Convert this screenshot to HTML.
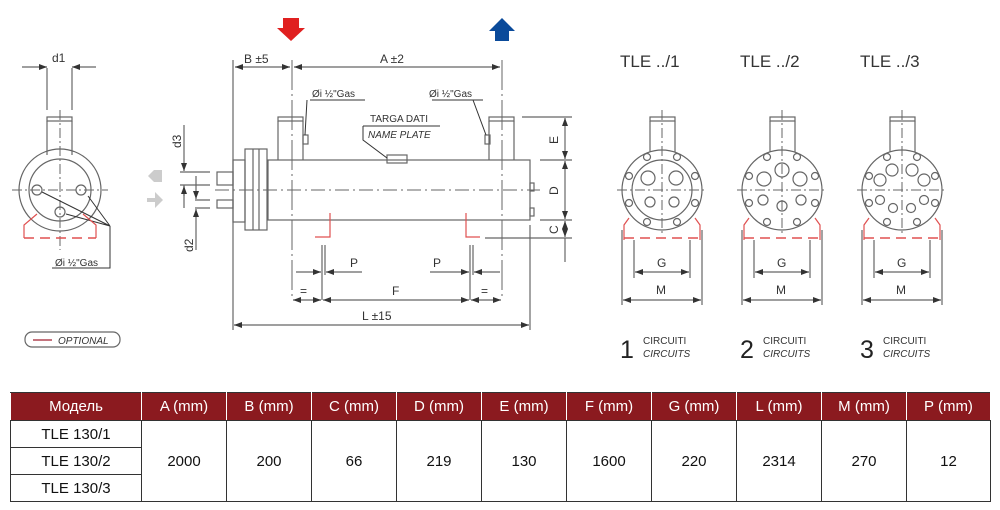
<!DOCTYPE html>
<html><head><meta charset="utf-8"><style>
body{margin:0;background:#fff;width:1000px;height:510px;overflow:hidden;font-family:"Liberation Sans",sans-serif}
svg{position:absolute;left:0;top:0}
table{position:absolute;left:10px;top:392px;border-collapse:collapse;font-family:"Liberation Sans","DejaVu Sans",sans-serif;font-size:15px;color:#111}
td,th{border:1.5px solid #333;text-align:center;padding:0}
th{background:#8b1a1f;color:#fff;font-weight:normal;height:27px;border-color:#333 #fff #333 #fff}
td{height:26px}
</style></head><body>
<svg width="1000" height="390" viewBox="0 0 1000 390" font-family="Liberation Sans, sans-serif" fill="none" stroke="#666" stroke-width="1.2">
<defs><marker id="a" markerWidth="8" markerHeight="6" refX="8" refY="3" orient="auto-start-reverse" markerUnits="userSpaceOnUse"><path d="M0,0L8,3L0,6z" fill="#333" stroke="none"/></marker></defs>
<!-- left side view -->
<g>
<line x1="47" y1="68" x2="47" y2="110"/><line x1="72" y1="68" x2="72" y2="110"/>
<line x1="22" y1="67" x2="47" y2="67" marker-end="url(#a)"/><line x1="96" y1="67" x2="72" y2="67" marker-end="url(#a)"/>
<text x="52" y="62" fill="#333" stroke="none" font-size="12">d1</text>
<rect x="47" y="117" width="25" height="4"/><line x1="47" y1="121" x2="47" y2="155"/><line x1="72" y1="121" x2="72" y2="155"/>
<circle cx="60" cy="190" r="41"/><circle cx="60" cy="190" r="31"/>
<line x1="60" y1="110" x2="60" y2="250" stroke-dasharray="10,3,2,3" stroke-width="1"/><line x1="12" y1="190" x2="108" y2="190" stroke-dasharray="10,3,2,3" stroke-width="1"/>
<circle cx="37" cy="190" r="5"/><circle cx="81" cy="190" r="5"/><circle cx="60" cy="212" r="5"/>
<path d="M110,226L42,192M110,226L88,196M110,226L66,214M110,226V268H52" stroke="#333" stroke-width="1"/>
<text x="55" y="266" fill="#333" stroke="none" font-size="10">Øi ½"Gas</text>
<path d="M37,214L24,225V238M83,214L96,225V238" stroke="#e05050"/>
<line x1="24" y1="238" x2="96" y2="238" stroke="#e05050" stroke-width="1.5" stroke-dasharray="10,6"/>
<rect x="25" y="332" width="95" height="15" rx="7"/><line x1="33" y1="340" x2="52" y2="340" stroke="#a02030"/>
<text x="58" y="344" fill="#333" stroke="none" font-size="10" font-style="italic">OPTIONAL</text>
</g>
<!-- main view -->
<g>
<path d="M283,18h16v10h6l-14,13l-14,-13h6z" fill="#e02020" stroke="none"/>
<path d="M495,41h14v-10h6l-13,-13l-13,13h6z" fill="#0a4a9a" stroke="none"/>
<path d="M162,170h-8l-6,6l6,6h8z" fill="#ccc" stroke="none"/>
<path d="M147,198h8v-6l8,8l-8,8v-6h-8z" fill="#ccc" stroke="none"/>
<line x1="233" y1="60" x2="233" y2="330"/><line x1="292" y1="60" x2="292" y2="300" stroke-dasharray="30,4,2,4" stroke-width="1"/><line x1="502" y1="60" x2="502" y2="300" stroke-dasharray="30,4,2,4" stroke-width="1"/><line x1="530" y1="225" x2="530" y2="330"/>
<line x1="235" y1="67" x2="290" y2="67" marker-start="url(#a)" marker-end="url(#a)"/>
<line x1="294" y1="67" x2="500" y2="67" marker-start="url(#a)" marker-end="url(#a)"/>
<text x="244" y="63" fill="#333" stroke="none" font-size="12">B ±5</text>
<text x="380" y="63" fill="#333" stroke="none" font-size="12">A ±2</text>
<rect x="268" y="160" width="262" height="60"/>
<line x1="215" y1="190" x2="540" y2="190" stroke-dasharray="14,4,2,4" stroke-width="1"/>
<rect x="233" y="160" width="12" height="62"/><rect x="245" y="149" width="22" height="81"/><line x1="253" y1="149" x2="253" y2="230"/><line x1="259" y1="149" x2="259" y2="230"/>
<rect x="217" y="172" width="16" height="13"/><rect x="217" y="200" width="16" height="8"/>
<rect x="278" y="117" width="25" height="4"/><path d="M278,121V160M303,121V160"/>
<rect x="489" y="117" width="25" height="4"/><path d="M489,121V160M514,121V160"/>
<rect x="303" y="135" width="5" height="9"/><rect x="485" y="135" width="5" height="9"/>
<rect x="387" y="155" width="20" height="8"/>
<rect x="530" y="183" width="4" height="8"/><rect x="530" y="208" width="4" height="8"/>
<path d="M310,100H365M307,100L305,135M432,100H483M473,100L486,135" stroke="#333" stroke-width="1"/>
<text x="312" y="97" fill="#333" stroke="none" font-size="10">Øi ½"Gas</text>
<text x="429" y="97" fill="#333" stroke="none" font-size="10">Øi ½"Gas</text>
<text x="370" y="122" fill="#333" stroke="none" font-size="10">TARGA DATI</text>
<text x="368" y="138" fill="#333" stroke="none" font-size="10" font-style="italic">NAME PLATE</text>
<path d="M363,126H440M363,126V140L387,158" stroke="#333" stroke-width="1"/>
<path d="M330,213V237H315M466,213V237H480" stroke="#e05050"/>
<line x1="322" y1="245" x2="322" y2="300"/><line x1="325" y1="245" x2="325" y2="275"/>
<line x1="470" y1="245" x2="470" y2="300"/><line x1="473" y1="245" x2="473" y2="275"/>
<line x1="296" y1="272" x2="321" y2="272" marker-end="url(#a)"/><line x1="362" y1="272" x2="326" y2="272" marker-end="url(#a)"/>
<line x1="430" y1="272" x2="469" y2="272" marker-end="url(#a)"/><line x1="500" y1="272" x2="474" y2="272" marker-end="url(#a)"/>
<text x="350" y="267" fill="#333" stroke="none" font-size="12">P</text><text x="433" y="267" fill="#333" stroke="none" font-size="12">P</text>
<line x1="293" y1="300" x2="321" y2="300" marker-start="url(#a)" marker-end="url(#a)"/>
<line x1="323" y1="300" x2="469" y2="300" marker-start="url(#a)" marker-end="url(#a)"/>
<line x1="471" y1="300" x2="501" y2="300" marker-start="url(#a)" marker-end="url(#a)"/>
<text x="300" y="295" fill="#333" stroke="none" font-size="12">=</text><text x="392" y="295" fill="#333" stroke="none" font-size="12">F</text><text x="481" y="295" fill="#333" stroke="none" font-size="12">=</text>
<line x1="234" y1="325" x2="529" y2="325" marker-start="url(#a)" marker-end="url(#a)"/>
<text x="362" y="320" fill="#333" stroke="none" font-size="12">L ±15</text>
<path d="M522,117H572M540,160H572M540,220H572M485,238H572"/>
<line x1="565" y1="118" x2="565" y2="159" marker-start="url(#a)" marker-end="url(#a)"/>
<line x1="565" y1="161" x2="565" y2="219" marker-start="url(#a)" marker-end="url(#a)"/>
<line x1="565" y1="221" x2="565" y2="237" marker-start="url(#a)" marker-end="url(#a)"/>
<line x1="565" y1="238" x2="565" y2="262"/>
<text transform="translate(558,144) rotate(-90)" fill="#333" stroke="none" font-size="12">E</text>
<text transform="translate(558,195) rotate(-90)" fill="#333" stroke="none" font-size="12">D</text>
<text transform="translate(558,234) rotate(-90)" fill="#333" stroke="none" font-size="12">C</text>
<path d="M180,172H210M180,185H210M195,200H210M195,208H210"/>
<line x1="184" y1="125" x2="184" y2="171" marker-end="url(#a)"/><line x1="184" y1="185" x2="184" y2="208"/><line x1="184" y1="196" x2="184" y2="186" marker-end="url(#a)"/>
<line x1="196" y1="176" x2="196" y2="199" marker-end="url(#a)"/><line x1="196" y1="250" x2="196" y2="209" marker-end="url(#a)"/>
<text transform="translate(181,148) rotate(-90)" fill="#333" stroke="none" font-size="12">d3</text>
<text transform="translate(193,252) rotate(-90)" fill="#333" stroke="none" font-size="12">d2</text>
</g>
<!-- circuit views -->
<g fill="#333" stroke="none" font-size="17"><text x="620" y="67">TLE ../1</text><text x="740" y="67">TLE ../2</text><text x="860" y="67">TLE ../3</text></g>
<g fill="#222" stroke="none"><text x="620" y="358" font-size="25">1</text><text x="740" y="358" font-size="25">2</text><text x="860" y="358" font-size="25">3</text>
<g font-size="10" fill="#333"><text x="643" y="344">CIRCUITI</text><text x="643" y="357" font-style="italic">CIRCUITS</text><text x="763" y="344">CIRCUITI</text><text x="763" y="357" font-style="italic">CIRCUITS</text><text x="883" y="344">CIRCUITI</text><text x="883" y="357" font-style="italic">CIRCUITS</text></g></g>
<g id="v1" transform="translate(662,0)">
<rect x="-12" y="117" width="25" height="4"/><path d="M-12,121V152M13,121V152"/>
<circle cx="0" cy="190" r="40"/>
<line x1="0" y1="110" x2="0" y2="235" stroke-dasharray="10,3,2,3" stroke-width="1"/><line x1="-45" y1="190" x2="45" y2="190" stroke-dasharray="10,3,2,3" stroke-width="1"/>
<path d="M-33,218L-38,225V240M33,218L38,225V240" stroke="#e05050"/>
<line x1="-38" y1="238" x2="38" y2="238" stroke="#e05050" stroke-width="1.5" stroke-dasharray="10,6"/>
<path d="M-40,230V305M40,230V305M-28,240V278M28,240V278"/>
<line x1="-27" y1="272" x2="27" y2="272" marker-start="url(#a)" marker-end="url(#a)"/>
<line x1="-39" y1="300" x2="39" y2="300" marker-start="url(#a)" marker-end="url(#a)"/>
<text x="-5" y="267" fill="#333" stroke="none" font-size="12">G</text><text x="-6" y="294" fill="#333" stroke="none" font-size="12">M</text>
</g>
<use href="#v1" x="120"/><use href="#v1" x="240"/>
<g transform="translate(662,0)"><circle cx="0" cy="190" r="30"/>
<circle cx="-14" cy="178" r="7"/><circle cx="14" cy="178" r="7"/><circle cx="-12" cy="202" r="5"/><circle cx="12" cy="202" r="5"/>
<circle cx="-15" cy="157" r="3.5"/><circle cx="15" cy="157" r="3.5"/><circle cx="-33" cy="176" r="3.5"/><circle cx="33" cy="176" r="3.5"/><circle cx="-33" cy="203" r="3.5"/><circle cx="33" cy="203" r="3.5"/><circle cx="-15" cy="222" r="3.5"/><circle cx="15" cy="222" r="3.5"/></g>
<g transform="translate(782,0)">
<circle cx="0" cy="170" r="7"/><circle cx="-18" cy="179" r="7"/><circle cx="18" cy="179" r="7"/><circle cx="-19" cy="200" r="5"/><circle cx="19" cy="200" r="5"/><circle cx="0" cy="206" r="5"/>
<circle cx="-15" cy="157" r="3.5"/><circle cx="15" cy="157" r="3.5"/><circle cx="-33" cy="176" r="3.5"/><circle cx="33" cy="176" r="3.5"/><circle cx="-33" cy="203" r="3.5"/><circle cx="33" cy="203" r="3.5"/><circle cx="-15" cy="222" r="3.5"/><circle cx="15" cy="222" r="3.5"/></g>
<g transform="translate(902,0)">
<circle cx="-10" cy="170" r="6"/><circle cx="10" cy="170" r="6"/><circle cx="-22" cy="180" r="6"/><circle cx="22" cy="180" r="6"/><circle cx="-22" cy="200" r="4.5"/><circle cx="22" cy="200" r="4.5"/><circle cx="-9" cy="208" r="4.5"/><circle cx="9" cy="208" r="4.5"/>
<circle cx="-15" cy="157" r="3.5"/><circle cx="15" cy="157" r="3.5"/><circle cx="-33" cy="176" r="3.5"/><circle cx="33" cy="176" r="3.5"/><circle cx="-33" cy="203" r="3.5"/><circle cx="33" cy="203" r="3.5"/><circle cx="-15" cy="222" r="3.5"/><circle cx="15" cy="222" r="3.5"/></g>
</svg>
<table>
<tr><th style="width:130px">Модель</th><th style="width:84px">A (mm)</th><th style="width:84px">B (mm)</th><th style="width:84px">C (mm)</th><th style="width:84px">D (mm)</th><th style="width:84px">E (mm)</th><th style="width:84px">F (mm)</th><th style="width:84px">G (mm)</th><th style="width:84px">L (mm)</th><th style="width:84px">M (mm)</th><th style="width:83px">P (mm)</th></tr>
<tr><td>TLE 130/1</td><td rowspan="3">2000</td><td rowspan="3">200</td><td rowspan="3">66</td><td rowspan="3">219</td><td rowspan="3">130</td><td rowspan="3">1600</td><td rowspan="3">220</td><td rowspan="3">2314</td><td rowspan="3">270</td><td rowspan="3">12</td></tr>
<tr><td>TLE 130/2</td></tr>
<tr><td>TLE 130/3</td></tr>
</table>
</body></html>
